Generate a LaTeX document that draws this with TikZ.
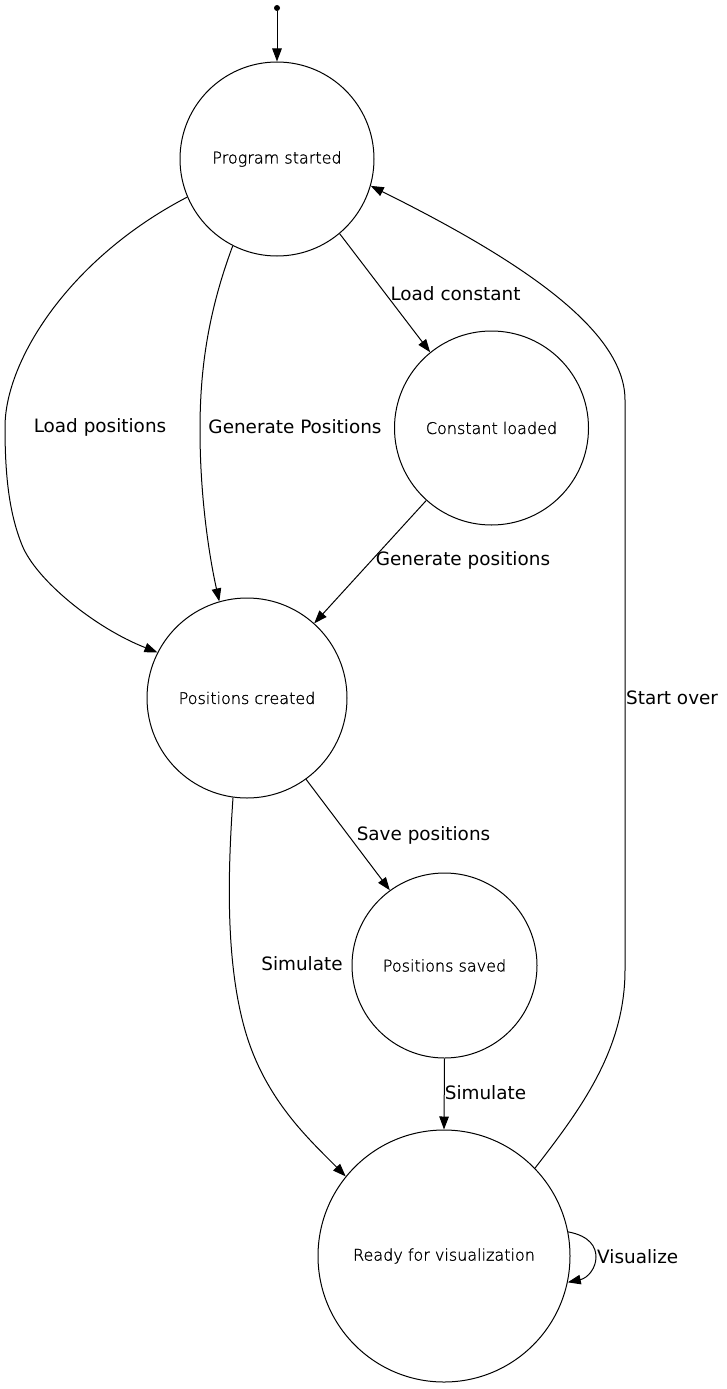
\documentclass[tikz,border=0pt]{standalone}
\usepackage{fontspec}
\setmainfont{DejaVu Sans}
\newfontfamily\lightfont[FakeBold=1.2]{DejaVu Sans ExtraLight}
\usetikzlibrary{arrows.meta}
\begin{document}
\begin{tikzpicture}[x=1pt,y=-1pt,
  state/.style={draw, circle, line width=1pt, inner sep=0pt, font=\lightfont\fontsize{16}{19}\selectfont},
  elabel/.style={font=\fontsize{18.4}{22}\selectfont, inner sep=0pt},
  arr/.style={line width=1pt, -{Triangle[length=13pt,width=9.5pt]}}]
\useasboundingbox (0,0) rectangle (726,1389);
\node[circle, fill, inner sep=0pt, minimum size=6pt] (s) at (277,8) {};
\node[state, minimum size=194pt] (ps) at (277,159) {Program started};
\node[state, minimum size=194pt] (cl) at (491.5,428) {Constant loaded};
\node[state, minimum size=200pt] (pc) at (247,698) {Positions created};
\node[state, minimum size=185pt] (sv) at (444.5,965.5) {Positions saved};
\node[state, minimum size=252pt] (rv) at (444,1256) {Ready for visualization};
% edges
\draw[arr] (s) -- (ps.north);
\draw[arr] (ps.203) .. controls (70,258) and (5,360) .. (5,427)
  .. controls (5,480) and (10,515) .. (22,545)
  .. controls (36,580) and (95,628) .. (pc.153);
\draw[arr] (ps.243) .. controls (205,320) and (200,380) .. (200,430)
  .. controls (200,500) and (210,560) .. (pc.106);
\draw[arr] (ps.310) -- (cl.129);
\draw[arr] (cl.228) -- (pc.48);
\draw[arr] (pc.306) -- (sv.126);
\draw[arr] (pc.262) .. controls (228,870) and (225,960) .. (245,1030)
  .. controls (265,1100) and (310,1140) .. (rv.141);
\draw[arr] (sv.south) -- (rv.north);
\draw[arr] (rv.44) .. controls (580,1110) and (625,1050) .. (625,970)
  -- (625,400) .. controls (625,330) and (520,260) .. (ps.344);
\draw[arr] (rv.11) .. controls (590,1236) and (596,1247) .. (596,1257)
  .. controls (596,1268) and (588,1278) .. (rv.-12);
% labels
\node[elabel] (l1) at (100,427) {Load positions};
\node[elabel] (l2) at (295,427) {Generate Positions};
\node[elabel] (l3) at (455.5,294) {Load constant};
\node[elabel] (l4) at (463,560) {Generate positions};
\node[elabel] (l5) at (423.5,835) {Save positions};
\node[elabel] (l6) at (302,964) {Simulate};
\node[elabel] (l7) at (485.5,1093) {Simulate};
\node[elabel, anchor=west] (l8) at (626,698) {Start over};
\node[elabel, anchor=west] (l9) at (597,1257) {Visualize};
\end{tikzpicture}
\end{document}
